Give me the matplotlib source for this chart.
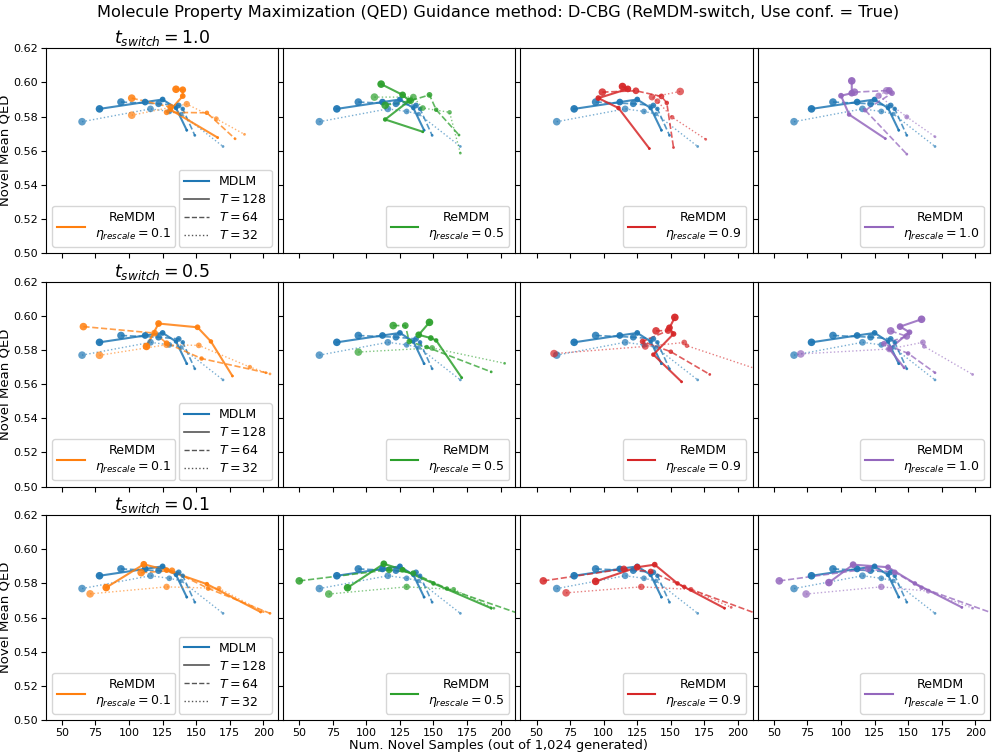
import numpy as np
import matplotlib.pyplot as plt

# 网格: 行 = t_switch, 列 = eta_rescale
T_SWITCH = ['1.0', '0.5', '0.1']
ETAS = ['0.1', '0.5', '0.9', '1.0']
COLORS = ['#ff7f0e', '#2ca02c', '#d62728', '#9467bd']
STEPS = [128, 64, 32]
STYLES = ['-', '--', ':']

# MDLM 基线 (每个子图相同), 顺序 T=128, 64, 32
mdlm_x = [[78, 112, 125, 135, 143],
          [94, 122, 137, 140, 149],
          [65, 116, 130, 139, 170]]
mdlm_y = [[0.5845, 0.5885, 0.5900, 0.5850, 0.5720],
          [0.5885, 0.5875, 0.5865, 0.5845, 0.5690],
          [0.5770, 0.5845, 0.5830, 0.5815, 0.5625]]

# ReMDM, t_switch = 1.0
x_10_01 = [[135, 140, 140, 131, 166], [102, 131, 128, 158, 179], [102, 143, 165, 186]]
y_10_01 = [[0.5960, 0.5957, 0.5920, 0.5840, 0.5677], [0.5908, 0.5855, 0.5825, 0.5822, 0.5670], [0.5808, 0.5873, 0.5787, 0.5696]]
x_10_05 = [[111, 127, 132, 114, 142], [114, 133, 147, 152, 169], [106, 135, 142, 162, 170]]
y_10_05 = [[0.5990, 0.5927, 0.5893, 0.5783, 0.5711], [0.5866, 0.5893, 0.5927, 0.5840, 0.5692], [0.5914, 0.5914, 0.5850, 0.5825, 0.5586]]
x_10_09 = [[114, 118, 96, 111, 134], [99, 124, 143, 147, 152], [157, 136, 140, 151, 176]]
y_10_09 = [[0.5976, 0.5962, 0.5908, 0.5850, 0.5613], [0.5943, 0.5951, 0.5918, 0.5880, 0.5619], [0.5947, 0.5914, 0.5890, 0.5796, 0.5667]]
x_10_10 = [[108, 108, 100, 106, 133], [110, 136, 138, 118, 149], [134, 128, 149, 170]]
y_10_10 = [[0.6009, 0.5937, 0.5922, 0.5812, 0.5671], [0.5943, 0.5953, 0.5937, 0.5837, 0.5580], [0.5951, 0.5922, 0.5798, 0.5682]]

# ReMDM, t_switch = 0.5
x_05_01 = [[113, 122, 151, 161, 177], [66, 119, 128, 154, 202], [78, 128, 152, 190, 205]]
y_05_01 = [[0.5821, 0.5955, 0.5933, 0.5850, 0.5648], [0.5937, 0.5899, 0.5840, 0.5750, 0.5667], [0.5769, 0.5831, 0.5827, 0.5700, 0.5660]]
x_05_05 = [[147, 139, 148, 152, 171], [120, 129, 132, 145, 193], [94, 149, 203]]
y_05_05 = [[0.5962, 0.5889, 0.5870, 0.5856, 0.5638], [0.5943, 0.5943, 0.5850, 0.5817, 0.5672], [0.5788, 0.5812, 0.5722]]
x_05_09 = [[153, 149, 152, 137, 158], [139, 148, 129, 150, 179], [63, 131, 160, 162, 240]]
y_05_09 = [[0.5991, 0.5930, 0.5894, 0.5773, 0.5614], [0.5912, 0.5914, 0.5850, 0.5790, 0.5657], [0.5779, 0.5821, 0.5844, 0.5825, 0.5620]]
x_05_10 = [[160, 144, 151, 136, 147], [137, 149, 132, 150, 170], [70, 136, 161, 162, 198]]
y_05_10 = [[0.5980, 0.5937, 0.5904, 0.5806, 0.5696], [0.5912, 0.5880, 0.5837, 0.5780, 0.5667], [0.5777, 0.5806, 0.5845, 0.5821, 0.5657]]

# ReMDM, t_switch = 0.1
x_01_01 = [[83, 111, 128, 158, 198], [109, 132, 159, 205], [71, 128, 167, 200]]
y_01_01 = [[0.5776, 0.5912, 0.5878, 0.5796, 0.5633], [0.5863, 0.5875, 0.5771, 0.5625], [0.5739, 0.5780, 0.5771, 0.5635]]
x_01_05 = [[86, 113, 127, 150, 193], [50, 117, 135, 160, 215], [72, 130, 165, 195]]
y_01_05 = [[0.5775, 0.5915, 0.5880, 0.5800, 0.5655], [0.5815, 0.5880, 0.5860, 0.5770, 0.5620], [0.5738, 0.5780, 0.5765, 0.5655]]
x_01_09 = [[94, 125, 138, 155, 190], [55, 115, 135, 160, 215], [72, 128, 165, 195]]
y_01_09 = [[0.5812, 0.5895, 0.5910, 0.5800, 0.5655], [0.5815, 0.5885, 0.5870, 0.5780, 0.5620], [0.5745, 0.5780, 0.5765, 0.5660]]
x_01_10 = [[91, 109, 135, 155, 190], [54, 120, 140, 160, 215], [74, 130, 165, 198]]
y_01_10 = [[0.5805, 0.5910, 0.5895, 0.5800, 0.5660], [0.5815, 0.5885, 0.5865, 0.5775, 0.5620], [0.5738, 0.5780, 0.5755, 0.5655]]

remdm_x = [[x_10_01, x_10_05, x_10_09, x_10_10],
           [x_05_01, x_05_05, x_05_09, x_05_10],
           [x_01_01, x_01_05, x_01_09, x_01_10]]
remdm_y = [[y_10_01, y_10_05, y_10_09, y_10_10],
           [y_05_01, y_05_05, y_05_09, y_05_10],
           [y_01_01, y_01_05, y_01_09, y_01_10]]

LW = [1.5, 1.2, 1.0]
ALPHA = [0.85, 0.75, 0.6]


def draw_line(ax, xs, ys, color, k):
    ax.plot(xs, ys, STYLES[k], color=color, lw=LW[k], alpha=ALPHA[k])
    sizes = np.linspace(30, 4, len(xs))
    ax.scatter(xs, ys, s=sizes, color=color, alpha=ALPHA[k] + 0.1, zorder=3, linewidths=0)


def remdm_legend(ax, handle, eta, loc):
    leg = ax.legend([handle], ['ReMDM\n$\\eta_{rescale} = %s$' % eta],
                    loc=loc, fontsize=9, handlelength=2.2)
    for t in leg.get_texts():
        t.set_multialignment('center')
    return leg


fig, axes = plt.subplots(3, 4, figsize=(9.96, 7.54), dpi=100, sharex=True, sharey=True)
fig.subplots_adjust(left=0.046, right=0.994, top=0.936, bottom=0.045, wspace=0.022, hspace=0.139)

for r in range(3):
    for c in range(4):
        ax = axes[r, c]
        for k in range(3):
            draw_line(ax, mdlm_x[k], mdlm_y[k], '#1f77b4', k)
        for k in range(3):
            draw_line(ax, remdm_x[r][c][k], remdm_y[r][c][k], COLORS[c], k)
        ax.set_xlim(38, 211)
        ax.set_ylim(0.50, 0.62)
        ax.tick_params(labelsize=8, pad=2)
        h_re, = ax.plot([], [], '-', color=COLORS[c])
        if c == 0:
            leg1 = remdm_legend(ax, h_re, ETAS[c], 'lower left')
            ax.add_artist(leg1)
            hm, = ax.plot([], [], '-', color='#1f77b4')
            h1, = ax.plot([], [], '-', color='#555555', lw=1.2)
            h2, = ax.plot([], [], '--', color='#555555', lw=1.0)
            h3, = ax.plot([], [], ':', color='#555555', lw=1.0)
            ax.legend([hm, h1, h2, h3], ['MDLM', '$T = 128$', '$T = 64$', '$T = 32$'],
                      loc='lower right', fontsize=9, handlelength=2.0,
                      labelspacing=0.4)
            ax.set_ylabel('Novel Mean QED', fontsize=9.5)
            ax.yaxis.set_label_coords(-0.147, 0.5)
            ax.set_title('$t_{switch} = %s$' % T_SWITCH[r], fontsize=12.5, pad=2)
        else:
            remdm_legend(ax, h_re, ETAS[c], 'lower right')

axes[0, 0].set_yticks(np.arange(0.50, 0.621, 0.02))
axes[0, 0].set_xticks([50, 75, 100, 125, 150, 175, 200])

fig.suptitle('Molecule Property Maximization (QED) Guidance method: D-CBG (ReMDM-switch, Use conf. = True)',
             fontsize=11.6, y=0.993)
fig.text(0.5, 0.002, 'Num. Novel Samples (out of 1,024 generated)', ha='center', va='bottom', fontsize=9.3)

plt.savefig('out.png', dpi=100)
